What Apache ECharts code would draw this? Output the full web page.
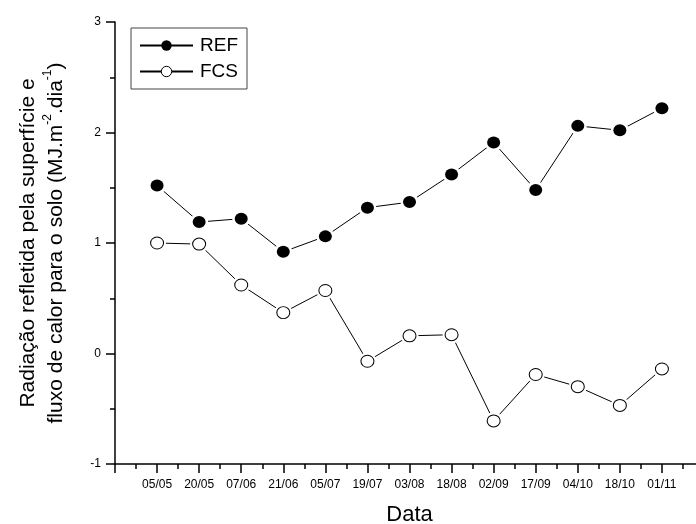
<!DOCTYPE html>
<html>
<head>
<meta charset="utf-8">
<script src="https://cdn.jsdelivr.net/npm/echarts@6/dist/echarts.min.js"></script>
<style>
  html, body { margin: 0; padding: 0; background: #fff; }
  #chart { width: 696px; height: 524px; }
</style>
</head>
<body>
<div id="chart"></div>
<script>
// datas das medições
const categories = ['05/05', '20/05', '07/06', '21/06', '05/07', '19/07', '03/08',
  '18/08', '02/09', '17/09', '04/10', '18/10', '01/11'];
const refValues = [1.52, 1.19, 1.22, 0.92, 1.06, 1.32, 1.37, 1.62, 1.91, 1.48, 2.06, 2.02, 2.22];
const fcsValues = [1.00, 0.99, 0.62, 0.37, 0.57, -0.07, 0.16, 0.17, -0.61, -0.19, -0.30, -0.47, -0.14];
const yTicks = [-1, 0, 1, 2, 3];

const toPoints = (vals) => vals.map((v, i) => [i + 1, v]);
const refData = toPoints(refValues);
const fcsData = toPoints(fcsValues);

const font = 'Liberation Sans, Arial, sans-serif';

let chart = echarts.init(document.getElementById('chart'), null, { renderer: 'canvas' });

let lineStyle = { color: '#000', width: 1 };

let option = {
  backgroundColor: '#fff',
  animation: false,
  textStyle: { fontFamily: font, color: '#000' },
  grid: { left: 115, right: -8, top: 22, bottom: 60, outerBoundsMode: 'none' },
  legend: {
    left: 131,
    top: 28,
    orient: 'vertical',
    padding: [8, 9, 8, 8],
    itemGap: 7,
    itemWidth: 53,
    itemHeight: 13,
    borderColor: '#444',
    borderWidth: 1,
    textStyle: { fontFamily: font, fontSize: 19, color: '#000', padding: [0, 0, 0, 2] },
    data: [
      { name: 'REF', itemStyle: { color: '#000', borderWidth: 0 } },
      { name: 'FCS', itemStyle: { color: '#fff', borderColor: '#000', borderWidth: 1 } }
    ]
  },
  xAxis: {
    type: 'value',
    min: 0,
    max: categories.length + 1,
    interval: 1,
    name: 'Data',
    nameLocation: 'middle',
    nameGap: 40,
    nameTextStyle: { fontFamily: font, fontSize: 22, color: '#000' },
    axisLine: { onZero: false, lineStyle: { color: '#000', width: 1.5 } },
    axisTick: { inside: false, length: 9, lineStyle: { color: '#000', width: 1.5 } },
    minorTick: { show: true, splitNumber: 2, length: 5, lineStyle: { color: '#000', width: 1.5 } },
    splitLine: { show: false },
    axisLabel: {
      margin: 15,
      fontFamily: font,
      fontSize: 12,
      color: '#000',
      showMinLabel: true,
      showMaxLabel: true,
      formatter: (v) => categories[v - 1] || ''
    }
  },
  yAxis: {
    type: 'value',
    min: yTicks[0],
    max: yTicks[yTicks.length - 1],
    interval: 1,
    name: '{a|Radiação refletida pela superfície e}\n{a|fluxo de calor para o solo (MJ.m}{s|-2}{a|.dia}{s|-1}{a|)}',
    nameLocation: 'middle',
    nameRotate: 90,
    nameGap: 45,
    nameTextStyle: {
      fontFamily: font,
      color: '#000',
      rich: {
        a: { fontFamily: font, fontSize: 21, lineHeight: 28, color: '#000' },
        s: { fontFamily: font, fontSize: 12, lineHeight: 16, verticalAlign: 'top', color: '#000' }
      }
    },
    axisLine: { onZero: false, lineStyle: { color: '#000', width: 1.5 } },
    axisTick: { inside: false, length: 9, lineStyle: { color: '#000', width: 1.5 } },
    minorTick: { show: true, splitNumber: 2, length: 5, lineStyle: { color: '#000', width: 1.5 } },
    splitLine: { show: false },
    axisLabel: { margin: 14, fontFamily: font, fontSize: 12, color: '#000' }
  },
  series: [
    {
      name: 'REF',
      type: 'line',
      data: refData,
      z: 2,
      lineStyle: lineStyle,
      symbol: 'circle',
      symbolSize: 18,
      itemStyle: { color: '#fff' },
      emphasis: { disabled: true }
    },
    {
      name: 'FCS',
      type: 'line',
      data: fcsData,
      z: 2,
      lineStyle: lineStyle,
      symbol: 'circle',
      symbolSize: 18,
      itemStyle: { color: '#fff' },
      emphasis: { disabled: true }
    },
    {
      name: 'REF_pts',
      type: 'scatter',
      data: refData,
      z: 4,
      symbol: 'circle',
      symbolSize: [13, 12],
      itemStyle: { color: '#000', opacity: 1 },
      silent: true
    },
    {
      name: 'FCS_pts',
      type: 'scatter',
      data: fcsData,
      z: 4,
      symbol: 'circle',
      symbolSize: [13, 12],
      itemStyle: { color: '#fff', borderColor: '#000', borderWidth: 1, opacity: 1 },
      silent: true
    }
  ]
};

option && chart.setOption(option);
</script>
</body>
</html>
